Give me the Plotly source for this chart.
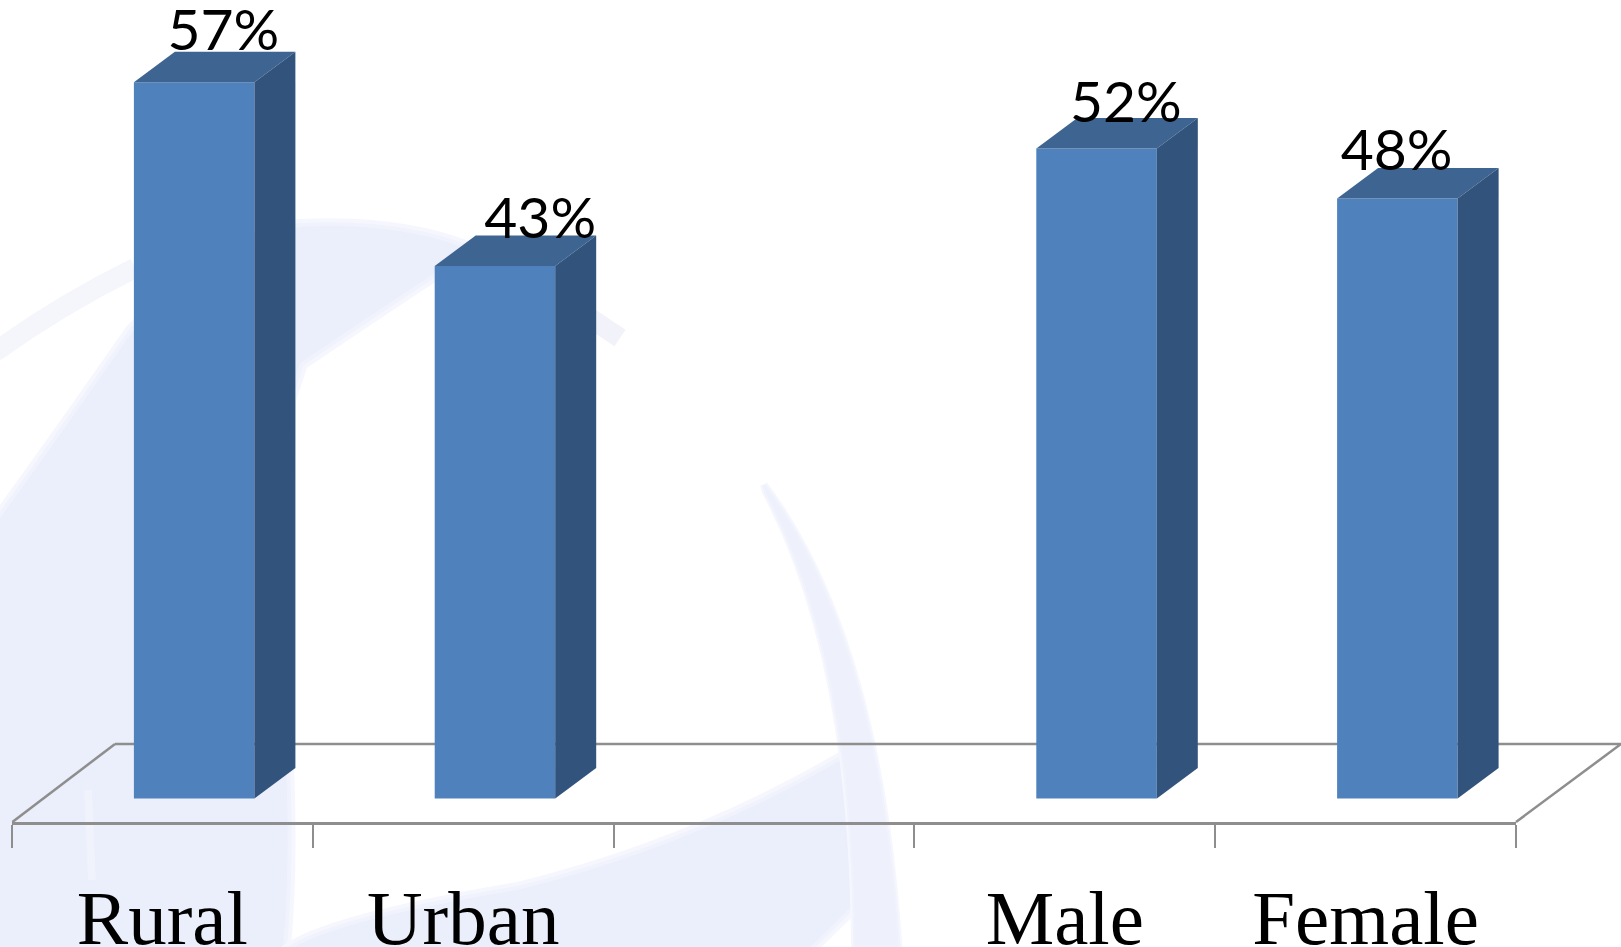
import plotly.graph_objects as go

# ---- data
categories = ["Rural", "Urban", " ", "Male", "Female"]
bar_slots = [0, 1, 3, 4]
bar_names = ["Rural", "Urban", "Male", "Female"]
bar_values = [57.3, 42.6, 52.0, 48.0]
bar_labels = ["57%", "43%", "52%", "48%"]

# ---- label placement relative to each bar (pixels)
label_dx_px = [61, 77, 61, 31]
label_rise_px = [47, 42, 41, 43]

W, H = 1621, 947
L, R, T, B = 12, 105, 0, 125
PX_X = (W - L - R) / 5
PX_Y = 12.5
BASE_PX = 23.5
x_range = [-0.5, 4.5]
y_range = [-BASE_PX / PX_Y, (H - B - BASE_PX) / PX_Y]
BAR_OFFSET = -28.5 / PX_X
BAR_W = 120.5 / PX_X
DX = 41 / PX_X
DY = 30.5 / PX_Y

FRONT, TOP, SIDE = "#4f81bd", "#3e6592", "#32547c"
GRID = "#8e8e8e"


def px(x, y):
    return (x - L) / (W - L - R), 1 - (y - T) / (H - T - B)


def path(cmds):
    out = []
    for c in cmds:
        if isinstance(c, str):
            out.append(c)
        else:
            a, b = px(*c)
            out.append(f"{a:.5f},{b:.5f}")
    return " ".join(out)


def wash(cmds, color="#ebeefb", halo="#f6f7fe", halo2="#f0f2fc", spread=16):
    base = dict(type="path", xref="paper", yref="paper", layer="below", path=path(cmds))
    return [
        dict(base, fillcolor=halo, line=dict(width=spread, color=halo)),
        dict(base, fillcolor=halo2, line=dict(width=spread / 2, color=halo2)),
        dict(base, fillcolor=color, line=dict(width=0)),
    ]


def stroke(cmds, color, width):
    return dict(type="path", xref="paper", yref="paper", layer="below", path=path(cmds),
                line=dict(width=width, color=color))


shapes = []
# faint band above the main crescent
shapes.append(stroke(["M", (-5, 352), "Q", (60, 305), (135, 268)], "#f5f6fb", 20))
# main body of the emblem
shapes += wash(["M", (-10, 532), "Q", (50, 450), (133, 331), "Q", (220, 240), (300, 227),
                "Q", (400, 222), (470, 250), "Q", (400, 295), (300, 363), "L", (288, 400),
                "L", (284, 730), "Q", (292, 860), (282, 957), "L", (-10, 957), "Z"])
# lighter streak in the body
shapes.append(stroke(["M", (88, 790), "L", (92, 880)], "#f0f2fc", 8))
# small tail of the crescent
shapes.append(stroke(["M", (590, 318), "L", (620, 338)], "#f2f2fa", 20))
# lower sweep
shapes += wash(["M", (282, 957), "Q", (310, 925), (518, 890), "Q", (700, 845), (853, 753),
                "L", (858, 900), "L", (800, 957), "Z"])
# right stroke
shapes += wash(["M", (764, 485), "Q", (880, 640), (899, 957), "L", (855, 957),
                "Q", (855, 660), (766, 492), "Z"], color="#eef0fb", spread=8)

# floor behind the bars
floor_line = dict(color=GRID, width=2.5)
for a, b in [((115, 744), (1621, 744)), ((12.4, 822), (115, 744)), ((1516, 822), (1621, 744))]:
    x0, y0 = px(*a)
    x1, y1 = px(*b)
    shapes.append(dict(type="line", xref="paper", yref="paper", layer="below",
                       x0=x0, y0=y0, x1=x1, y1=y1, line=floor_line))

fig = go.Figure()
fig.add_bar(x=bar_slots, y=bar_values, width=BAR_W, offset=BAR_OFFSET,
            marker=dict(color=FRONT, line=dict(width=0)), hoverinfo="skip",
            showlegend=False, name="share")

for slot, name, v in zip(bar_slots, bar_names, bar_values):
    x0 = slot + BAR_OFFSET
    x1 = x0 + BAR_W
    fig.add_scatter(x=[x0, x1, x1 + DX, x0 + DX, x0], y=[v, v, v + DY, v + DY, v],
                    mode="lines", fill="toself", fillcolor=TOP, line=dict(width=0),
                    hoverinfo="skip", showlegend=False, name=name + " top")
    fig.add_scatter(x=[x1, x1 + DX, x1 + DX, x1, x1], y=[0, DY, v + DY, v, 0],
                    mode="lines", fill="toself", fillcolor=SIDE, line=dict(width=0),
                    hoverinfo="skip", showlegend=False, name=name + " side")

fig.add_scatter(
    x=[s + d / PX_X for s, d in zip(bar_slots, label_dx_px)],
    y=[v + r / PX_Y for v, r in zip(bar_values, label_rise_px)],
    text=bar_labels, mode="text", textposition="middle center",
    textfont=dict(family="Lato", size=57, color="#000000"),
    cliponaxis=False, hoverinfo="skip", showlegend=False, name="labels")

fig.update_layout(
    width=W, height=H, margin=dict(l=L, r=R, t=T, b=B, autoexpand=False),
    paper_bgcolor="#ffffff", plot_bgcolor="rgba(0,0,0,0)", shapes=shapes,
    showlegend=False, autosize=False,
    xaxis=dict(range=x_range, tickmode="array", tickvals=list(range(5)), ticktext=categories,
               ticks="", showgrid=False, zeroline=False, showline=True, linecolor=GRID, linewidth=3,
               ticklabelstandoff=27,
               tickfont=dict(family="Liberation Serif", size=77, color="#000000"),
               minor=dict(tickmode="array", tickvals=[i - 0.5 for i in range(6)], ticks="outside",
                          ticklen=23, tickwidth=2, tickcolor=GRID, showgrid=False)),
    yaxis=dict(range=y_range, visible=False, showgrid=False, zeroline=False),
)
fig.write_html("out.html", config=dict(displayModeBar=False),
               post_script="document.body.style.margin='0';document.body.style.overflow='hidden';")
